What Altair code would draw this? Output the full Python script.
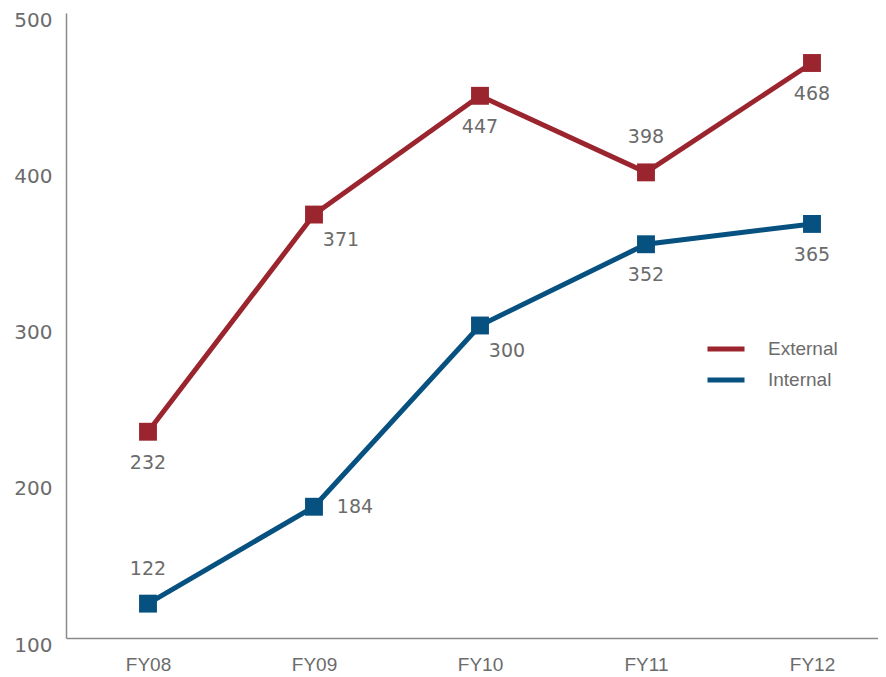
import altair as alt
import pandas as pd

years = ["FY08", "FY09", "FY10", "FY11", "FY12"]
external = [232, 371, 447, 398, 468]
internal = [122, 184, 300, 352, 365]
external_label_side = ["below", "below-right", "below", "above", "below"]
internal_label_side = ["above", "right", "below-right", "below", "below"]
series_names = ["External", "Internal"]
series_colors = ["#9b252f", "#06517f"]
y_ticks = [100, 200, 300, 400, 500]

rows = []
for name, vals, sides in [("External", external, external_label_side),
                          ("Internal", internal, internal_label_side)]:
    for yr, v, s in zip(years, vals, sides):
        rows.append({"year": yr, "value": v, "series": name, "side": s})
df = pd.DataFrame(rows)

FONT = "Liberation Sans"
NUM_FONT = "DejaVu Sans"
TEXT_GRAY = "#6b6b6b"
AXIS_GRAY = "#8a8a8a"

x_enc = alt.X("year:N", sort=years, title=None,
              scale=alt.Scale(type="point", padding=0.4458, align=0.554),
              axis=alt.Axis(labelAngle=0, ticks=False, grid=False, domainColor=AXIS_GRAY,
                            domainWidth=1.5, labelPadding=17, labelFontSize=19,
                            labelColor=TEXT_GRAY, labelFont=FONT))
y_enc = alt.Y("value:Q", title=None,
              scale=alt.Scale(domain=[100, 500], nice=False, zero=False),
              axis=alt.Axis(values=y_ticks, ticks=False, grid=False, domainColor=AXIS_GRAY,
                            domainWidth=1.5, labelPadding=14, labelFontSize=20,
                            labelColor=TEXT_GRAY, labelFont=NUM_FONT, labelOffset=7))
color_scale = alt.Scale(domain=series_names, range=series_colors)

base = alt.Chart(df)

lines = base.mark_line(strokeWidth=5).encode(
    x=x_enc, y=y_enc,
    color=alt.Color("series:N", scale=color_scale,
                    legend=alt.Legend(title=None, orient="none", legendX=639, legendY=315,
                                      symbolType="stroke", symbolSize=1369,
                                      symbolStrokeWidth=5, labelFontSize=19,
                                      labelFont=FONT, labelColor=TEXT_GRAY,
                                      labelOffset=21, rowPadding=-4, padding=0)),
)

points = base.mark_square(size=320, opacity=1, filled=True).encode(
    x=x_enc, y=y_enc,
    color=alt.Color("series:N", scale=color_scale, legend=None),
)

offsets = {
    "below": (0, 31),
    "above": (0, -35),
    "right": (41, 0),
    "below-right": (27, 25),
}

text_layers = []
for side, (dx, dy) in offsets.items():
    text_layers.append(
        base.transform_filter(alt.datum.side == side).mark_text(
            dx=dx, dy=dy, fontSize=19, font=NUM_FONT, color=TEXT_GRAY,
            align="center", baseline="middle"
        ).encode(x=x_enc, y=y_enc, text="value:Q")
    )

chart = alt.layer(lines, points, *text_layers).properties(
    width=812, height=625,
    autosize=alt.AutoSizeParams(type="none"),
    padding={"left": 58, "top": 5, "right": 0, "bottom": 40},
    background="white",
).configure_view(stroke=None)

chart.save("out.html", embed_options={"renderer": "svg", "actions": False})
